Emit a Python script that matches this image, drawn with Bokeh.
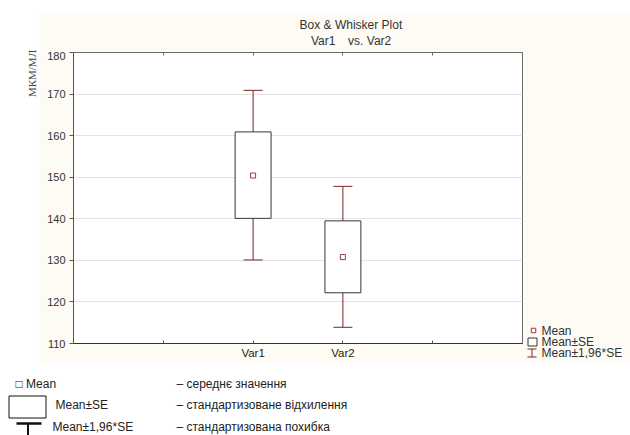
import math
from bokeh.plotting import figure
from bokeh.layouts import row, column
from bokeh.models import (ColumnDataSource, FixedTicker, LinearAxis, Whisker,
                          TeeHead, Range1d, Spacer)
from bokeh.core.properties import value
from bokeh.embed import file_html
from bokeh.resources import INLINE

# ---------------- data ----------------
categories = ["Var1", "Var2"]
cat_pos = [2, 3]
means = [150.4, 130.8]
se_low = [140.1, 122.2]
se_high = [160.9, 139.5]
ci_low = [130.1, 113.9]
ci_high = [170.9, 147.8]
y_ticks = [110, 120, 130, 140, 150, 160, 170, 180]
x_ticks = [1, 2, 3, 4]

title_line1 = "Box & Whisker Plot"
title_var1 = "Var1"
title_var2 = "vs. Var2"
y_label = "МКМ/МЛ"
legend_names = ["Mean", "Mean±SE", "Mean±1,96*SE"]
legend_desc = ["– середнє значення", "– стандартизоване відхилення",
               "– стандартизована похибка"]

# ---------------- styles ----------------
CREAM = "#fdfbf3"
BOX_C = "#3a3333"
WHISK_C = "#7a2424"
MEAN_C = "#a03838"
TXT = "#333333"
FONT = "Liberation Sans"


def pix_fig(x0, y0, w, h, bg):
    """Decoration figure whose data coordinates are page pixels (y negated)."""
    f = figure(width=w, height=h, output_backend="svg", toolbar_location=None,
               x_range=Range1d(x0, x0 + w), y_range=Range1d(-(y0 + h), -y0),
               x_axis_type=None, y_axis_type=None, min_border=0,
               min_border_left=0, min_border_right=0, min_border_top=0,
               min_border_bottom=0, background_fill_color=bg,
               border_fill_color=bg, outline_line_color=None)
    return f


def txt(f, s, x, y, size="11px", color=TXT, align="left", font=FONT, angle=0.0):
    f.text(x=[x], y=[-y], text=[s], text_font=value(font),
           text_font_size=value(size), text_color=color, text_align=align,
           text_baseline="middle", angle=angle)


def rect(f, l, r, t, b, fill="white", line=None, lw=1):
    f.quad(left=[l], right=[r], top=[-t], bottom=[-b], fill_color=fill,
           line_color=line, line_width=lw)


def seg(f, x0, y0, x1, y1, color, lw=1):
    f.segment(x0=[x0], y0=[-y0], x1=[x1], y1=[-y1], line_color=color, line_width=lw)


# ---------------- main plot (cream panel x 39-523, y 51-363) ----------------
p = figure(width=484, height=312, output_backend="svg", toolbar_location=None,
           x_range=Range1d(0, 5), y_range=Range1d(110, 180),
           min_border_left=34, min_border_right=1,
           min_border_top=1, min_border_bottom=20,
           background_fill_color="white", border_fill_color=CREAM,
           outline_line_color="#6a6a6a")

p.yaxis.ticker = FixedTicker(ticks=y_ticks)
p.yaxis.major_tick_out = 4
p.yaxis.major_tick_in = 0
p.yaxis.minor_tick_out = 0
p.yaxis.minor_tick_in = 0
p.yaxis.axis_line_color = "#555555"
p.yaxis.major_tick_line_color = "#555555"
p.yaxis.major_label_text_font = FONT
p.yaxis.major_label_text_font_size = "11px"
p.yaxis.major_label_text_color = TXT
p.yaxis.major_label_standoff = 4

overrides = {t: "" for t in x_ticks}
for pos, cat in zip(cat_pos, categories):
    overrides[pos] = cat
p.xaxis.ticker = FixedTicker(ticks=x_ticks)
p.xaxis.major_label_overrides = overrides
p.xaxis.major_tick_in = 3
p.xaxis.major_tick_out = 0
p.xaxis.minor_tick_in = 0
p.xaxis.minor_tick_out = 0
p.xaxis.axis_line_color = "#333333"
p.xaxis.major_tick_line_color = "#555555"
p.xaxis.major_label_text_font = FONT
p.xaxis.major_label_text_font_size = "11.5px"
p.xaxis.major_label_text_color = "#222222"
p.xaxis.major_label_standoff = 3

top_axis = LinearAxis(ticker=FixedTicker(ticks=x_ticks),
                      major_label_overrides={t: "" for t in x_ticks},
                      major_label_text_font_size="0px",
                      major_label_standoff=0,
                      major_tick_in=3, major_tick_out=0,
                      minor_tick_in=0, minor_tick_out=0,
                      axis_line_color="#6a6a6a",
                      major_tick_line_color="#6a6a6a")
p.add_layout(top_axis, "above")

p.xgrid.visible = False
p.ygrid.grid_line_color = "#e2e2e2"
p.ygrid.grid_line_width = 1

src = ColumnDataSource(dict(x=cat_pos, mean=means, se_low=se_low,
                            se_high=se_high, ci_low=ci_low, ci_high=ci_high))

whisk = Whisker(source=src, base="x", upper="ci_high", lower="ci_low",
                dimension="height", line_color=WHISK_C, line_width=1,
                upper_head=TeeHead(size=19, line_color=WHISK_C, line_width=1),
                lower_head=TeeHead(size=19, line_color=WHISK_C, line_width=1))
p.add_layout(whisk)

p.vbar(x="x", width=0.4, top="se_high", bottom="se_low", source=src,
       fill_color="white", line_color=BOX_C, line_width=1)
p.scatter(x="x", y="mean", source=src, marker="square", size=5,
          fill_color="white", line_color=MEAN_C, line_width=1)

# ---------------- title strip (x 39-523, y 14-51) ----------------
tf = pix_fig(39, 14, 484, 37, CREAM)
txt(tf, title_line1, 338, 24, size="12px", align="center")
txt(tf, title_var1, 295, 40, size="12px")
txt(tf, title_var2, 335, 40, size="12px")

# ---------------- right legend strip (x 523-630, y 14-363) ----------------
rf = pix_fig(523, 14, 107, 349, CREAM)
rf.scatter(x=[533], y=[-330], marker="square", size=4.5, fill_color="white",
           line_color=MEAN_C, line_width=1)
txt(rf, legend_names[0], 541, 330, size="12px")
rect(rf, 527.5, 536.5, 337.5, 345.5, fill="white", line=BOX_C)
txt(rf, legend_names[1], 541, 341, size="12px")
seg(rf, 527, 348.5, 536, 348.5, WHISK_C)
seg(rf, 527, 356.5, 536, 356.5, WHISK_C)
seg(rf, 531.5, 348.5, 531.5, 356.5, WHISK_C)
txt(rf, legend_names[2], 541, 352, size="12px")

# ---------------- left strip with y label (x 0-39, y 0-363) ----------------
lf = pix_fig(0, 0, 39, 363, "white")
txt(lf, y_label, 31, 73, size="11px", color="#444444", font="Liberation Serif",
    align="center", angle=math.pi / 2)

# ---------------- bottom explanation (x 0-630, y 363-435) ----------------
bf = pix_fig(0, 363, 630, 72, "white")
txt(bf, "□ " + legend_names[0], 15, 383, size="12px", color="#222222")
txt(bf, legend_desc[0], 176, 383, size="12px", color="#222222")
rect(bf, 8.5, 45.5, 395.5, 417.5, fill="white", line="#111111")
txt(bf, legend_names[1], 55, 404, size="12px", color="#222222")
txt(bf, legend_desc[1], 176, 404, size="12px", color="#222222")
seg(bf, 16, 423, 41, 423, "#111111", lw=2.5)
seg(bf, 27.5, 423, 27.5, 436, "#111111", lw=2)
txt(bf, legend_names[2], 52, 426, size="12px", color="#222222")
txt(bf, legend_desc[2], 176, 426, size="12px", color="#222222")

layout = column(
    row(lf,
        column(Spacer(width=591, height=14),
               row(column(tf, p), rf))),
    bf)

open("out.html", "w", encoding="utf-8").write(file_html(layout, INLINE))
